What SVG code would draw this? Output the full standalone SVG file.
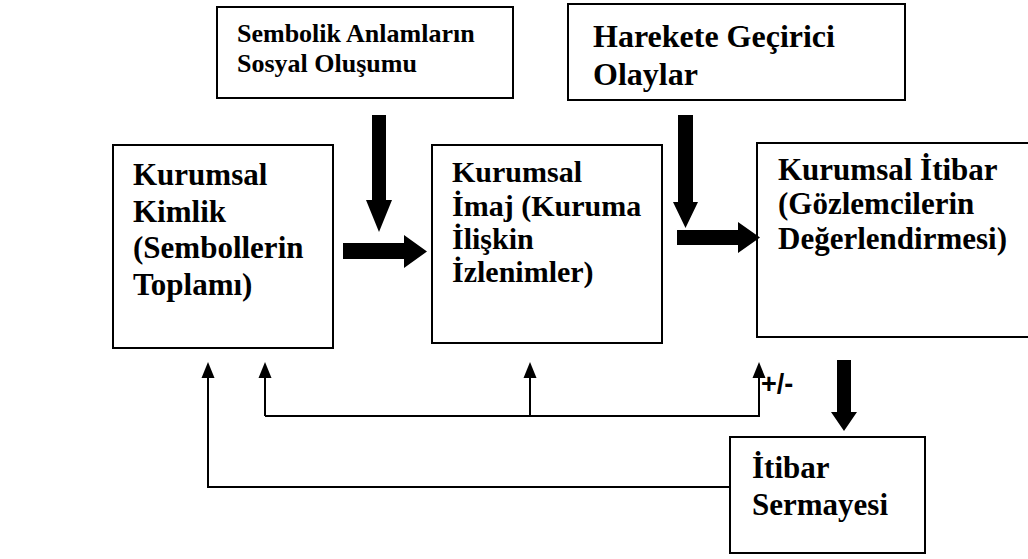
<svg xmlns="http://www.w3.org/2000/svg" width="1028" height="559" viewBox="0 0 1028 559">
<style>
.box{fill:#fff;stroke:#000;stroke-width:2}
.t{font-family:"Liberation Serif","Times New Roman",Tinos,"DejaVu Serif",serif;font-weight:bold;fill:#000}
.ln{fill:none;stroke:#000;stroke-width:2}
.big{fill:#000}
</style>
<defs>
<path id="up" d="M-6.5 16 L0 0 L6.5 16 Z" fill="#000"/>
</defs>
<rect width="1028" height="559" fill="#fff"/>
<g id="sembolik">
<rect class="box" x="217" y="7" width="296" height="91"/>
<text class="t" font-size="26" x="237" y="42">Sembolik Anlamların</text>
<text class="t" font-size="26" x="237" y="72">Sosyal Oluşumu</text>
</g>
<g id="harekete">
<rect class="box" x="568" y="4" width="337" height="96"/>
<text class="t" font-size="32" x="593" y="47">Harekete Geçirici</text>
<text class="t" font-size="32" x="593" y="85">Olaylar</text>
</g>
<g id="kimlik">
<rect class="box" x="113" y="145" width="220" height="203"/>
<text class="t" font-size="31" x="133" y="185">Kurumsal</text>
<text class="t" font-size="31" x="133" y="222">Kimlik</text>
<text class="t" font-size="31" x="133" y="258">(Sembollerin</text>
<text class="t" font-size="31" x="133" y="295">Toplamı)</text>
</g>
<g id="imaj">
<rect class="box" x="432" y="145" width="230" height="198"/>
<text class="t" font-size="30" x="452" y="182">Kurumsal</text>
<text class="t" font-size="30" x="452" y="216">İmaj (Kuruma</text>
<text class="t" font-size="30" x="452" y="249">İlişkin</text>
<text class="t" font-size="30" x="452" y="282">İzlenimler)</text>
</g>
<g id="itibar">
<rect class="box" x="757" y="143" width="280" height="194"/>
<text class="t" font-size="31" x="778" y="180">Kurumsal İtibar</text>
<text class="t" font-size="31" x="778" y="214">(Gözlemcilerin</text>
<text class="t" font-size="31" x="778" y="249">Değerlendirmesi)</text>
</g>
<g id="sermaye">
<rect class="box" x="730" y="437" width="195" height="116"/>
<text class="t" font-size="31" x="752" y="478">İtibar</text>
<text class="t" font-size="31" x="752" y="515">Sermayesi</text>
</g>
<g id="connectors">
<polygon class="big" points="372,115 386,115 386,200 392,200 379,232 366,200 372,200"/>
<polygon class="big" points="343,243 404,243 404,235 427,251.5 404,268 404,259 343,259"/>
<polygon class="big" points="678,115 693,115 693,202 698,202 685.5,228 673,202 678,202"/>
<polygon class="big" points="677,230 738,230 738,222 760,237.5 738,253 738,245 677,245"/>
<polygon class="big" points="837,360 851,360 851,412 857,412 844,431 831,412 837,412"/>
<path class="ln" d="M730 487 H208 V376"/>
<path class="ln" d="M265 416 V376"/>
<path class="ln" d="M265 416 H759 V376"/>
<path class="ln" d="M530 416 V376"/>
<use href="#up" x="208" y="362"/>
<use href="#up" x="265" y="362"/>
<use href="#up" x="530" y="362"/>
<use href="#up" x="759" y="362"/>
<text x="761" y="393" font-family="Liberation Sans, Arial, sans-serif" font-weight="bold" font-size="27" fill="#000">+/-</text>
</g>
</svg>
